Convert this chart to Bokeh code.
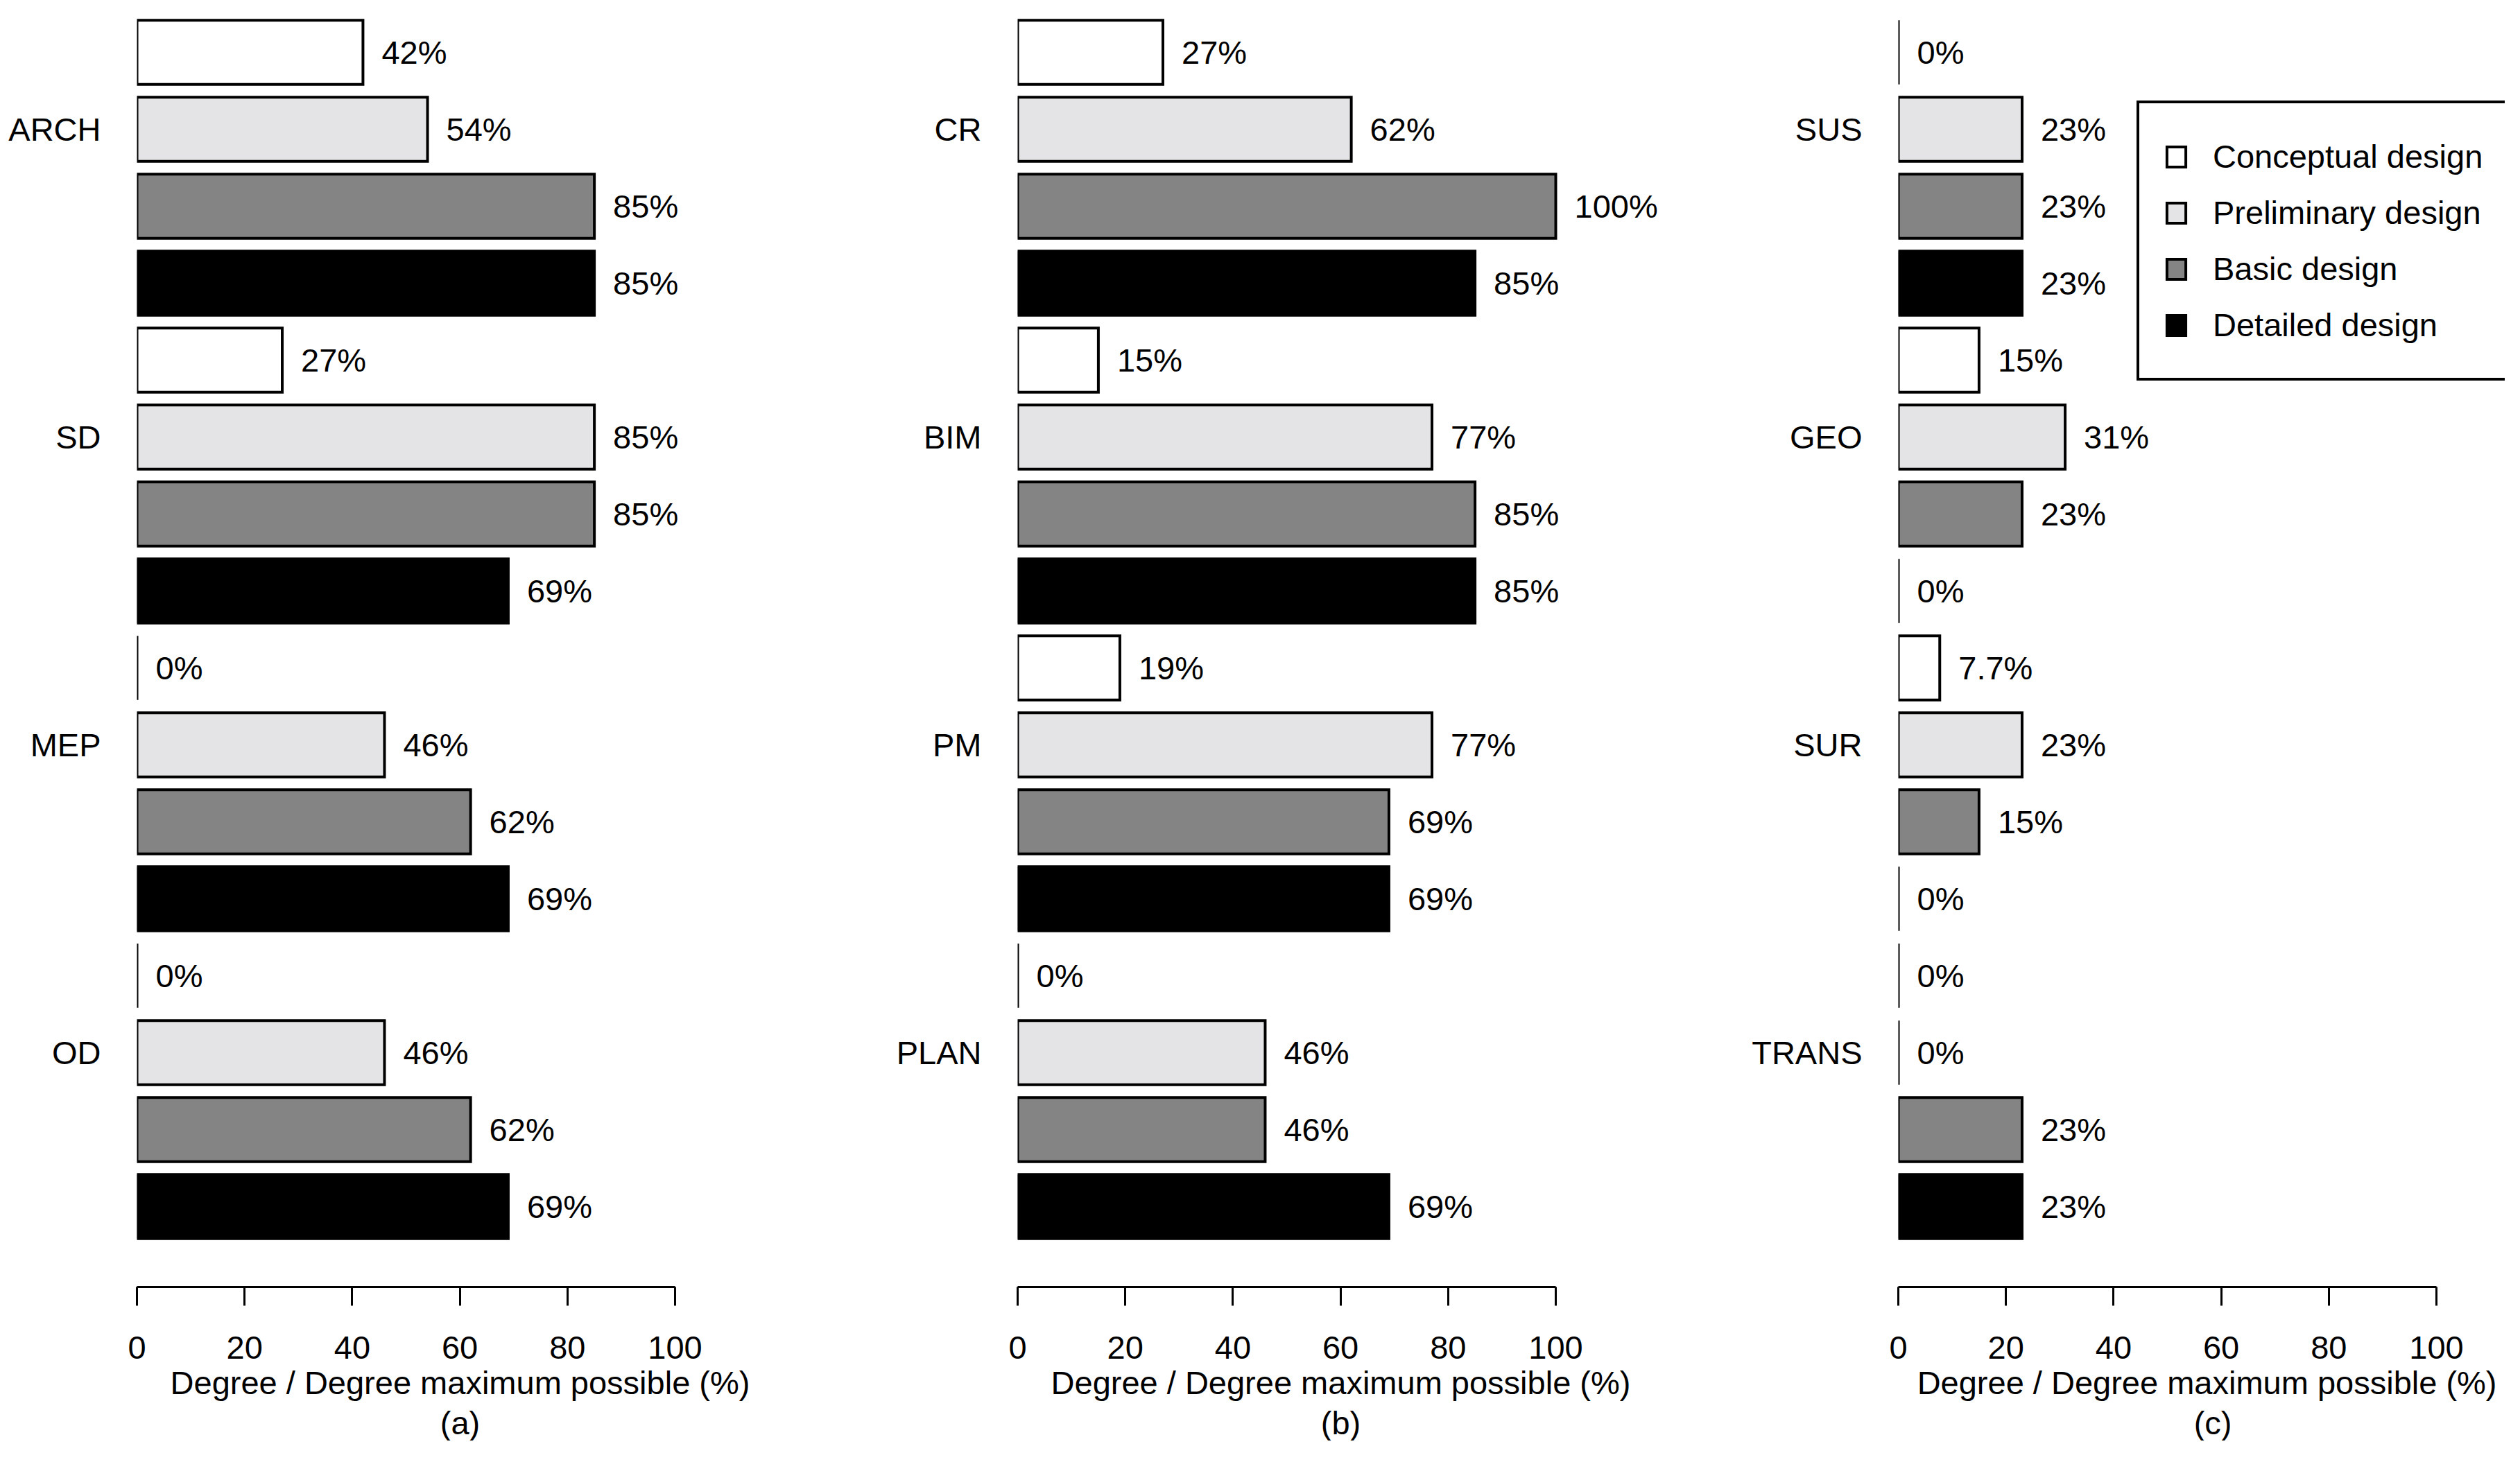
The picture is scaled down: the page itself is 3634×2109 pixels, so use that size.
from bokeh.plotting import figure
from bokeh.layouts import row
from bokeh.models import (ColumnDataSource, Range1d, FixedTicker, Title, Legend, LegendItem)
from bokeh.core.properties import value
from bokeh.embed import file_html
from bokeh.resources import INLINE

# ---------------- data ----------------
stages = ["Conceptual design", "Preliminary design", "Basic design", "Detailed design"]
stage_colors = ["#ffffff", "#e4e4e6", "#848484", "#000000"]

a_categories = ["ARCH", "SD", "MEP", "OD"]
a_conceptual = [42, 27, 0, 0]
a_preliminary = [54, 85, 46, 46]
a_basic = [85, 85, 62, 62]
a_detailed = [85, 69, 69, 69]

b_categories = ["CR", "BIM", "PM", "PLAN"]
b_conceptual = [27, 15, 19, 0]
b_preliminary = [62, 77, 77, 46]
b_basic = [100, 85, 69, 46]
b_detailed = [85, 85, 69, 69]

c_categories = ["SUS", "GEO", "SUR", "TRANS"]
c_conceptual = [0, 15, 7.7, 0]
c_preliminary = [23, 31, 23, 0]
c_basic = [23, 23, 15, 23]
c_detailed = [23, 0, 0, 23]

x_ticks = [0, 20, 40, 60, 80, 100]
x_title = "Degree / Degree maximum possible (%)"
panel_letters = ["(a)", "(b)", "(c)"]

FONT = "Liberation Sans"
FS = "47px"
PX_PER_UNIT = 7.76

# y geometry: bar k centre at 6*k, bar height 5 (data units, 18.5 px per unit)
Y_TOP = -3.622
Y_BOTTOM = 96.27
FRAME_H = 1848


def make_panel(cats, series, letter, border_left, frame_w, title_align="center",
               title_offsets=(0, 0), with_legend=False):
    p = figure(frame_width=frame_w, frame_height=FRAME_H,
               x_range=Range1d(0, frame_w / PX_PER_UNIT),
               y_range=Range1d(Y_BOTTOM, Y_TOP),
               output_backend="svg", toolbar_location=None)
    p.min_border_left = border_left
    p.min_border_right = 0
    p.min_border_top = 8
    p.min_border_bottom = 0
    p.outline_line_color = None
    p.xgrid.visible = False
    p.ygrid.visible = False
    p.background_fill_color = "white"
    p.border_fill_color = "white"

    renderers = []
    for s, vals in enumerate(series):
        ys = [6 * (4 * g + s) for g in range(len(vals))]
        src = ColumnDataSource(dict(
            y=ys, right=vals,
            label=[f"{v:g}%" for v in vals]))
        r = p.hbar(y="y", left=0, right="right", height=5, source=src,
                   fill_color=stage_colors[s], line_color="black",
                   line_width=4, line_join="miter")
        renderers.append(r)
        p.text(x="right", y="y", text="label", source=src, x_offset=27,
               text_align="left", text_baseline="middle",
               text_font=value(FONT), text_font_size=FS, text_color="black")

    # x axis
    xa = p.xaxis[0]
    xa.bounds = (0, 100)
    xa.ticker = FixedTicker(ticks=x_ticks)
    xa.minor_tick_line_color = None
    xa.major_tick_in = 0
    xa.major_tick_out = 27
    xa.major_tick_line_width = 3
    xa.axis_line_width = 3
    xa.axis_line_color = "black"
    xa.major_tick_line_color = "black"
    xa.major_label_standoff = 44
    xa.major_label_text_font = FONT
    xa.major_label_text_font_size = FS
    xa.major_label_text_color = "black"

    # y axis: category names
    ya = p.yaxis[0]
    tick_pos = [6 * (4 * g + 1) for g in range(len(cats))]
    ya.ticker = FixedTicker(ticks=tick_pos)
    ya.major_label_overrides = {t: c for t, c in zip(tick_pos, cats)}
    ya.axis_line_color = None
    ya.major_tick_line_color = None
    ya.minor_tick_line_color = None
    ya.major_label_standoff = 46
    ya.major_label_text_font = FONT
    ya.major_label_text_font_size = FS
    ya.major_label_text_color = "black"

    for i, (txt, off) in enumerate(zip([x_title, letter], title_offsets)):
        p.add_layout(Title(text=txt, align=title_align, offset=off,
                           text_font=FONT, text_font_size=FS,
                           text_font_style="normal", text_color="black",
                           standoff=6 if i == 0 else 0), "below")

    if with_legend:
        legend = Legend(items=[LegendItem(label=st, renderers=[r])
                               for st, r in zip(stages, renderers)],
                        location=(344, 1307), margin=0, padding=36,
                        spacing=0, glyph_width=34, glyph_height=36,
                        label_height=81, label_standoff=36,
                        label_text_font=FONT, label_text_font_size=FS,
                        label_text_color="black",
                        border_line_color="black", border_line_width=4,
                        border_line_alpha=1.0,
                        background_fill_color="white", background_fill_alpha=1.0)
        p.add_layout(legend)
    return p


pa = make_panel(a_categories, [a_conceptual, a_preliminary, a_basic, a_detailed],
                panel_letters[0], 197, 932)
pb = make_panel(b_categories, [b_conceptual, b_preliminary, b_basic, b_detailed],
                panel_letters[1], 338, 932)
pc = make_panel(c_categories, [c_conceptual, c_preliminary, c_basic, c_detailed],
                panel_letters[2], 338, 875, title_align="right",
                title_offsets=(12, 394), with_legend=True)

layout = row(pa, pb, pc)
open("out.html", "w").write(file_html(layout, INLINE))
